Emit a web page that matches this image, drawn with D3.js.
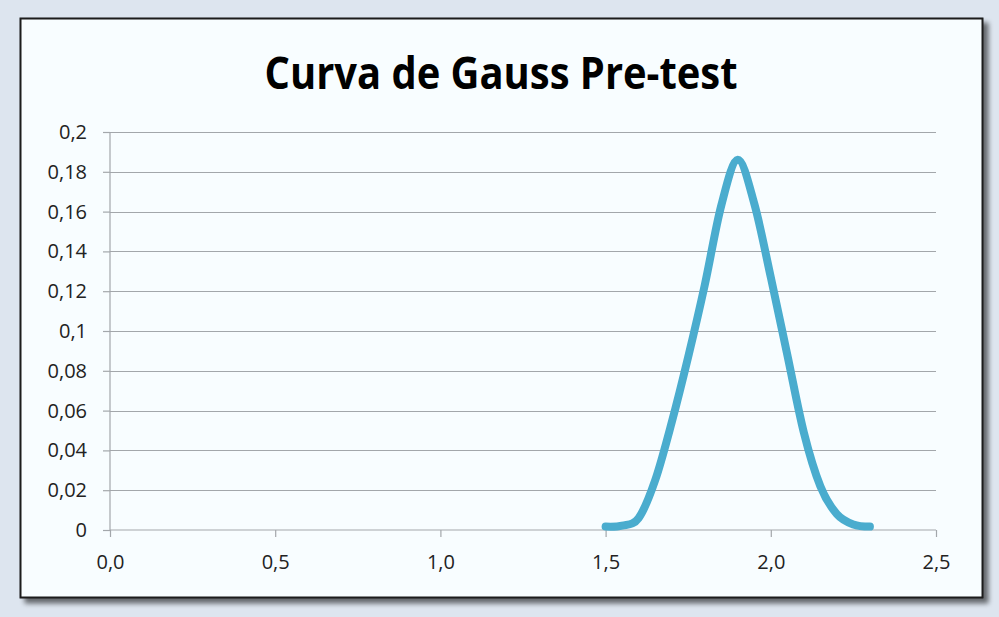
<!DOCTYPE html>
<html>
<head>
<meta charset="utf-8">
<script src="https://cdn.jsdelivr.net/npm/d3@7"></script>
<style>
  body { margin: 0; background: #dde5ef; }
  svg { display: block; }
</style>
</head>
<body>
<div id="chart"></div>
<script>
var svgWidth = 999;
var svgHeight = 617;

// data
var chartTitle = "Curva de Gauss Pre-test";
var xValues = [1.5, 1.55, 1.6, 1.65, 1.7, 1.75, 1.8, 1.85, 1.9, 1.95, 2.0, 2.05, 2.1, 2.15, 2.2, 2.25, 2.3];
var yValues = [0.0017, 0.0022, 0.006, 0.025, 0.054, 0.087, 0.123, 0.163, 0.186, 0.164, 0.127, 0.088, 0.049, 0.022, 0.008, 0.0028, 0.0017];
var xTicks = [0, 0.5, 1.0, 1.5, 2.0, 2.5];
var yTicks = [0, 0.02, 0.04, 0.06, 0.08, 0.1, 0.12, 0.14, 0.16, 0.18, 0.2];

var margin = { top: 132, right: 63, bottom: 87, left: 110 };
var width = svgWidth - margin.left - margin.right;
var height = svgHeight - margin.top - margin.bottom;

var svg = d3.select("#chart")
  .append("svg")
  .attr("width", svgWidth)
  .attr("height", svgHeight);

var defs = svg.append("defs");
var shadow = defs.append("filter").attr("id", "shadow")
  .attr("x", "-5%").attr("y", "-5%").attr("width", "115%").attr("height", "115%");
shadow.append("feGaussianBlur").attr("in", "SourceAlpha").attr("stdDeviation", 2.5);
shadow.append("feOffset").attr("dx", 5).attr("dy", 5).attr("result", "blur");
shadow.append("feComponentTransfer").append("feFuncA").attr("type", "linear").attr("slope", 0.55);
var merge = shadow.append("feMerge");
merge.append("feMergeNode");
merge.append("feMergeNode").attr("in", "SourceGraphic");

// chart frame
svg.append("rect")
  .attr("x", 20.5).attr("y", 18.5)
  .attr("width", 962).attr("height", 579)
  .attr("fill", "#f8fdff")
  .attr("stroke", "#1a1a1a")
  .attr("stroke-width", 2)
  .attr("filter", "url(#shadow)");

svg.append("text")
  .attr("x", 501)
  .attr("y", 89)
  .attr("text-anchor", "middle")
  .attr("font-family", "Open Sans, sans-serif")
  .attr("font-weight", "bold")
  .attr("font-size", "44px")
  .attr("textLength", 473)
  .attr("lengthAdjust", "spacingAndGlyphs")
  .attr("fill", "#000")
  .text(chartTitle);

var Group = svg.append("g")
  .attr("transform", `translate(${margin.left}, ${margin.top})`);

var xScale = d3.scaleLinear().domain([0, 2.5]).range([0, width]);
var yScale = d3.scaleLinear().domain([0, 0.2]).range([height, 0]);

var fmtY = d => d3.format("~g")(d).replace(".", ",");
var fmtX = d => d3.format(".1f")(d).replace(".", ",");

// gridlines
Group.append("g")
  .selectAll("line")
  .data(yTicks.slice(1))
  .enter()
  .append("line")
  .attr("x1", 0).attr("x2", width)
  .attr("y1", d => Math.round(yScale(d)) + 0.5)
  .attr("y2", d => Math.round(yScale(d)) + 0.5)
  .attr("stroke", "#a3a7ab")
  .attr("stroke-width", 1.2);

var yaxis = d3.axisLeft(yScale).tickValues(yTicks).tickFormat(fmtY)
  .tickSize(7).tickPadding(16);
var gy = Group.append("g").call(yaxis);

var xaxis = d3.axisBottom(xScale).tickValues(xTicks).tickFormat(fmtX)
  .tickSize(7).tickPadding(18);
var gx = Group.append("g")
  .attr("transform", `translate(0, ${height})`)
  .call(xaxis);

[gx, gy].forEach(function(g) {
  g.select(".domain").attr("stroke", "#a3a7ab").attr("stroke-width", 1.2);
  g.selectAll(".tick line").attr("stroke", "#a3a7ab").attr("stroke-width", 1.2);
  g.selectAll(".tick text")
    .attr("font-family", "Open Sans, sans-serif")
    .attr("font-size", "20px")
    .attr("fill", "#222");
});
gy.select(".domain").attr("d", `M0,${height}V0`);
gx.select(".domain").attr("d", `M0,0H${width}`);

// curve
var pts = xValues.map((x, i) => [x, yValues[i]]);
var line = d3.line()
  .x(d => xScale(d[0]))
  .y(d => yScale(d[1]))
  .curve(d3.curveCardinal.tension(0));

Group.append("path")
  .datum(pts)
  .attr("d", line)
  .attr("fill", "none")
  .attr("stroke", "#4aacce")
  .attr("stroke-width", 8)
  .attr("stroke-linecap", "round")
  .attr("stroke-linejoin", "round");
</script>
</body>
</html>
